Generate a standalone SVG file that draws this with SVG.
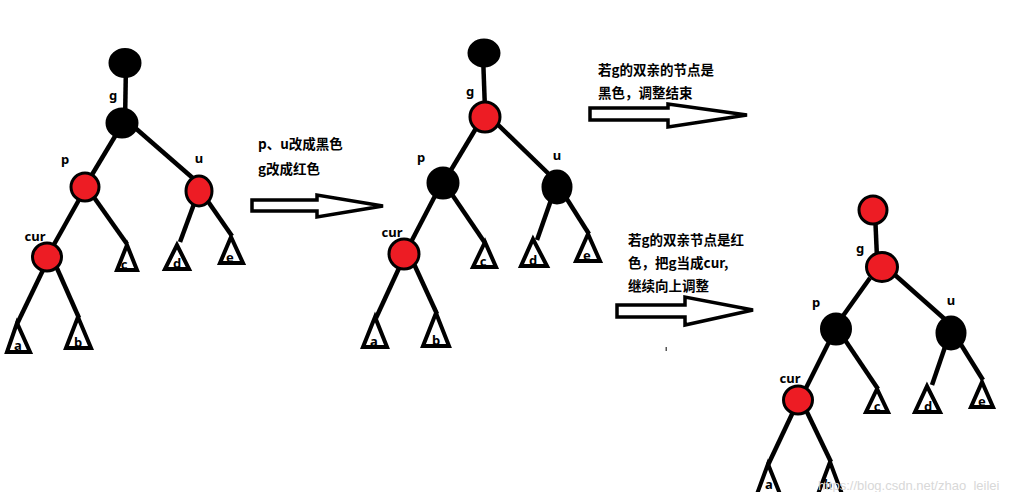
<svg xmlns="http://www.w3.org/2000/svg" width="1026" height="492" viewBox="0 0 1026 492">
<style>
.edge{stroke:#000;stroke-width:4.5;stroke-linecap:butt;fill:none}
.blk{fill:#000;stroke:#000;stroke-width:3}
.red{fill:#ed1c24;stroke:#000;stroke-width:3}
.tri{fill:#fff;stroke:#000;stroke-width:4;stroke-linejoin:miter}
.lbl{font-family:"Noto Sans","Noto Sans CJK SC",sans-serif;font-weight:bold;font-size:13px;fill:#000;text-anchor:middle}
.note{font-family:"Noto Sans CJK SC","Noto Sans",sans-serif;font-weight:bold;font-size:13.5px;fill:#000}
.arrow{fill:#fff;stroke:#000;stroke-width:3.5;stroke-linejoin:miter}
.wm{font-family:"Liberation Sans",Arial,sans-serif;font-size:13px;fill:#d8d8d8}
</style>
<rect width="1026" height="492" fill="#fff"/>

<g id="connectors">
  <!-- tree 1 -->
  <line class="edge" x1="126" y1="63" x2="125" y2="123"/>
  <line class="edge" x1="117" y1="133" x2="90" y2="178"/>
  <line class="edge" x1="133" y1="126" x2="195" y2="180"/>
  <line class="edge" x1="80" y1="198" x2="52" y2="248"/>
  <line class="edge" x1="93" y1="196" x2="127" y2="244"/>
  <line class="edge" x1="194" y1="204" x2="180" y2="242"/>
  <line class="edge" x1="207" y1="200" x2="232" y2="236"/>
  <line class="edge" x1="44" y1="268" x2="17" y2="324"/>
  <line class="edge" x1="56" y1="266" x2="79" y2="318"/>
  <!-- tree 2 -->
  <line class="edge" x1="483" y1="55" x2="485" y2="110"/>
  <line class="edge" x1="478" y1="125" x2="445" y2="180"/>
  <line class="edge" x1="490" y1="117" x2="555" y2="180"/>
  <line class="edge" x1="436" y1="194" x2="410" y2="244"/>
  <line class="edge" x1="451" y1="193" x2="485" y2="243"/>
  <line class="edge" x1="551" y1="200" x2="537" y2="240"/>
  <line class="edge" x1="565" y1="196" x2="589" y2="234"/>
  <line class="edge" x1="400" y1="266" x2="376" y2="318"/>
  <line class="edge" x1="414" y1="264" x2="437" y2="314"/>
  <!-- tree 3 -->
  <line class="edge" x1="875" y1="212" x2="877" y2="258"/>
  <line class="edge" x1="870" y1="278" x2="840" y2="320"/>
  <line class="edge" x1="895" y1="275" x2="948" y2="322"/>
  <line class="edge" x1="830" y1="340" x2="805" y2="390"/>
  <line class="edge" x1="845" y1="340" x2="878" y2="389"/>
  <line class="edge" x1="945" y1="347" x2="932" y2="385"/>
  <line class="edge" x1="960" y1="343" x2="983" y2="380"/>
  <line class="edge" x1="793" y1="412" x2="768" y2="465"/>
  <line class="edge" x1="806" y1="410" x2="831" y2="462"/>
</g>

<g id="tree1">
  <g id="t1-top"><ellipse class="blk" cx="125" cy="63" rx="15" ry="13.5"/></g>
  <g id="t1-g"><ellipse class="blk" cx="122" cy="123" rx="15" ry="14"/><text class="lbl" x="113" y="100">g</text></g>
  <g id="t1-p"><ellipse class="red" cx="85" cy="187" rx="14" ry="14"/><text class="lbl" x="65" y="164">p</text></g>
  <g id="t1-u"><ellipse class="red" cx="199" cy="191" rx="13" ry="15"/><text class="lbl" x="199" y="163">u</text></g>
  <g id="t1-cur"><ellipse class="red" cx="47" cy="257" rx="14.5" ry="14"/><text class="lbl" x="35" y="241">cur</text></g>
  <g id="t1-c"><polygon class="tri" points="127,245 117,270 137,270"/><text class="lbl" x="124" y="269">c</text></g>
  <g id="t1-d"><polygon class="tri" points="177,245 165,269 189,269"/><text class="lbl" x="177" y="268">d</text></g>
  <g id="t1-e"><polygon class="tri" points="231,237 220,263 243,263"/><text class="lbl" x="230" y="262">e</text></g>
  <g id="t1-a"><polygon class="tri" points="17,323 7,352 30,352"/><text class="lbl" x="18" y="350">a</text></g>
  <g id="t1-b"><polygon class="tri" points="78,317 66,348 91,348"/><text class="lbl" x="78" y="347">b</text></g>
</g>

<g id="tree2">
  <g id="t2-top"><ellipse class="blk" cx="484" cy="53" rx="15" ry="13"/></g>
  <g id="t2-g"><ellipse class="red" cx="485" cy="117" rx="15" ry="15"/><text class="lbl" x="470" y="96">g</text></g>
  <g id="t2-p"><ellipse class="blk" cx="443" cy="183" rx="15" ry="15"/><text class="lbl" x="421" y="162">p</text></g>
  <g id="t2-u"><ellipse class="blk" cx="557" cy="187" rx="14" ry="16"/><text class="lbl" x="557" y="160">u</text></g>
  <g id="t2-cur"><ellipse class="red" cx="404" cy="254" rx="15" ry="15"/><text class="lbl" x="392" y="237">cur</text></g>
  <g id="t2-c"><polygon class="tri" points="485,242 473,267 496,267"/><text class="lbl" x="483" y="266">c</text></g>
  <g id="t2-d"><polygon class="tri" points="533,239 521,266 547,266"/><text class="lbl" x="533" y="265">d</text></g>
  <g id="t2-e"><polygon class="tri" points="588,234 576,261 600,261"/><text class="lbl" x="587" y="260">e</text></g>
  <g id="t2-a"><polygon class="tri" points="375,317 363,347 387,347"/><text class="lbl" x="374" y="346">a</text></g>
  <g id="t2-b"><polygon class="tri" points="436,313 423,346 449,346"/><text class="lbl" x="436" y="345">b</text></g>
</g>

<g id="tree3">
  <g id="t3-top"><ellipse class="red" cx="873" cy="210" rx="14" ry="14"/></g>
  <g id="t3-g"><ellipse class="red" cx="882" cy="267" rx="15.5" ry="14.5"/><text class="lbl" x="860" y="253">g</text></g>
  <g id="t3-p"><ellipse class="blk" cx="836" cy="329" rx="14.5" ry="15"/><text class="lbl" x="816" y="307">p</text></g>
  <g id="t3-u"><ellipse class="blk" cx="951" cy="333" rx="14" ry="16"/><text class="lbl" x="951" y="305">u</text></g>
  <g id="t3-cur"><ellipse class="red" cx="798" cy="400" rx="14.5" ry="14"/><text class="lbl" x="790" y="383">cur</text></g>
  <g id="t3-c"><polygon class="tri" points="877,389 866,412 888,412"/><text class="lbl" x="877" y="411">c</text></g>
  <g id="t3-d"><polygon class="tri" points="927,386 915,412 940,412"/><text class="lbl" x="928" y="411">d</text></g>
  <g id="t3-e"><polygon class="tri" points="982,382 971,407 993,407"/><text class="lbl" x="982" y="406">e</text></g>
  <g id="t3-a"><polygon class="tri" points="768,464 757,494 780,494"/><text class="lbl" x="769" y="489">a</text></g>
  <g id="t3-b"><polygon class="tri" points="830,462 818,494 842,494"/><text class="lbl" x="828" y="489">b</text></g>
</g>

<g id="step1">
  <text class="note" x="258" y="149">p、u改成黑色</text>
  <text class="note" x="258" y="174">g改成红色</text>
  <polygon class="arrow" points="252,200 317,200 317,195 383,206 317,217 317,211 252,211"/>
</g>

<g id="step2">
  <text class="note" x="598" y="74.5">若g的双亲的节点是</text>
  <text class="note" x="598" y="98">黑色，调整结束</text>
  <polygon class="arrow" points="590,108 668,108 668,104 747,115 668,127 668,120 590,120"/>
</g>

<g id="step3">
  <text class="note" x="628" y="244.5">若g的双亲节点是红</text>
  <text class="note" x="628" y="268">色，把g当成cur,</text>
  <text class="note" x="628" y="291">继续向上调整</text>
  <polygon class="arrow" points="617,305 685,305 685,297 753,310 685,325 685,317 617,317"/>
</g>

<rect x="665.5" y="347" width="1.5" height="4" fill="#555"/>
<text class="wm" x="818" y="490">https://blog.csdn.net/zhao_leilei</text>
</svg>
